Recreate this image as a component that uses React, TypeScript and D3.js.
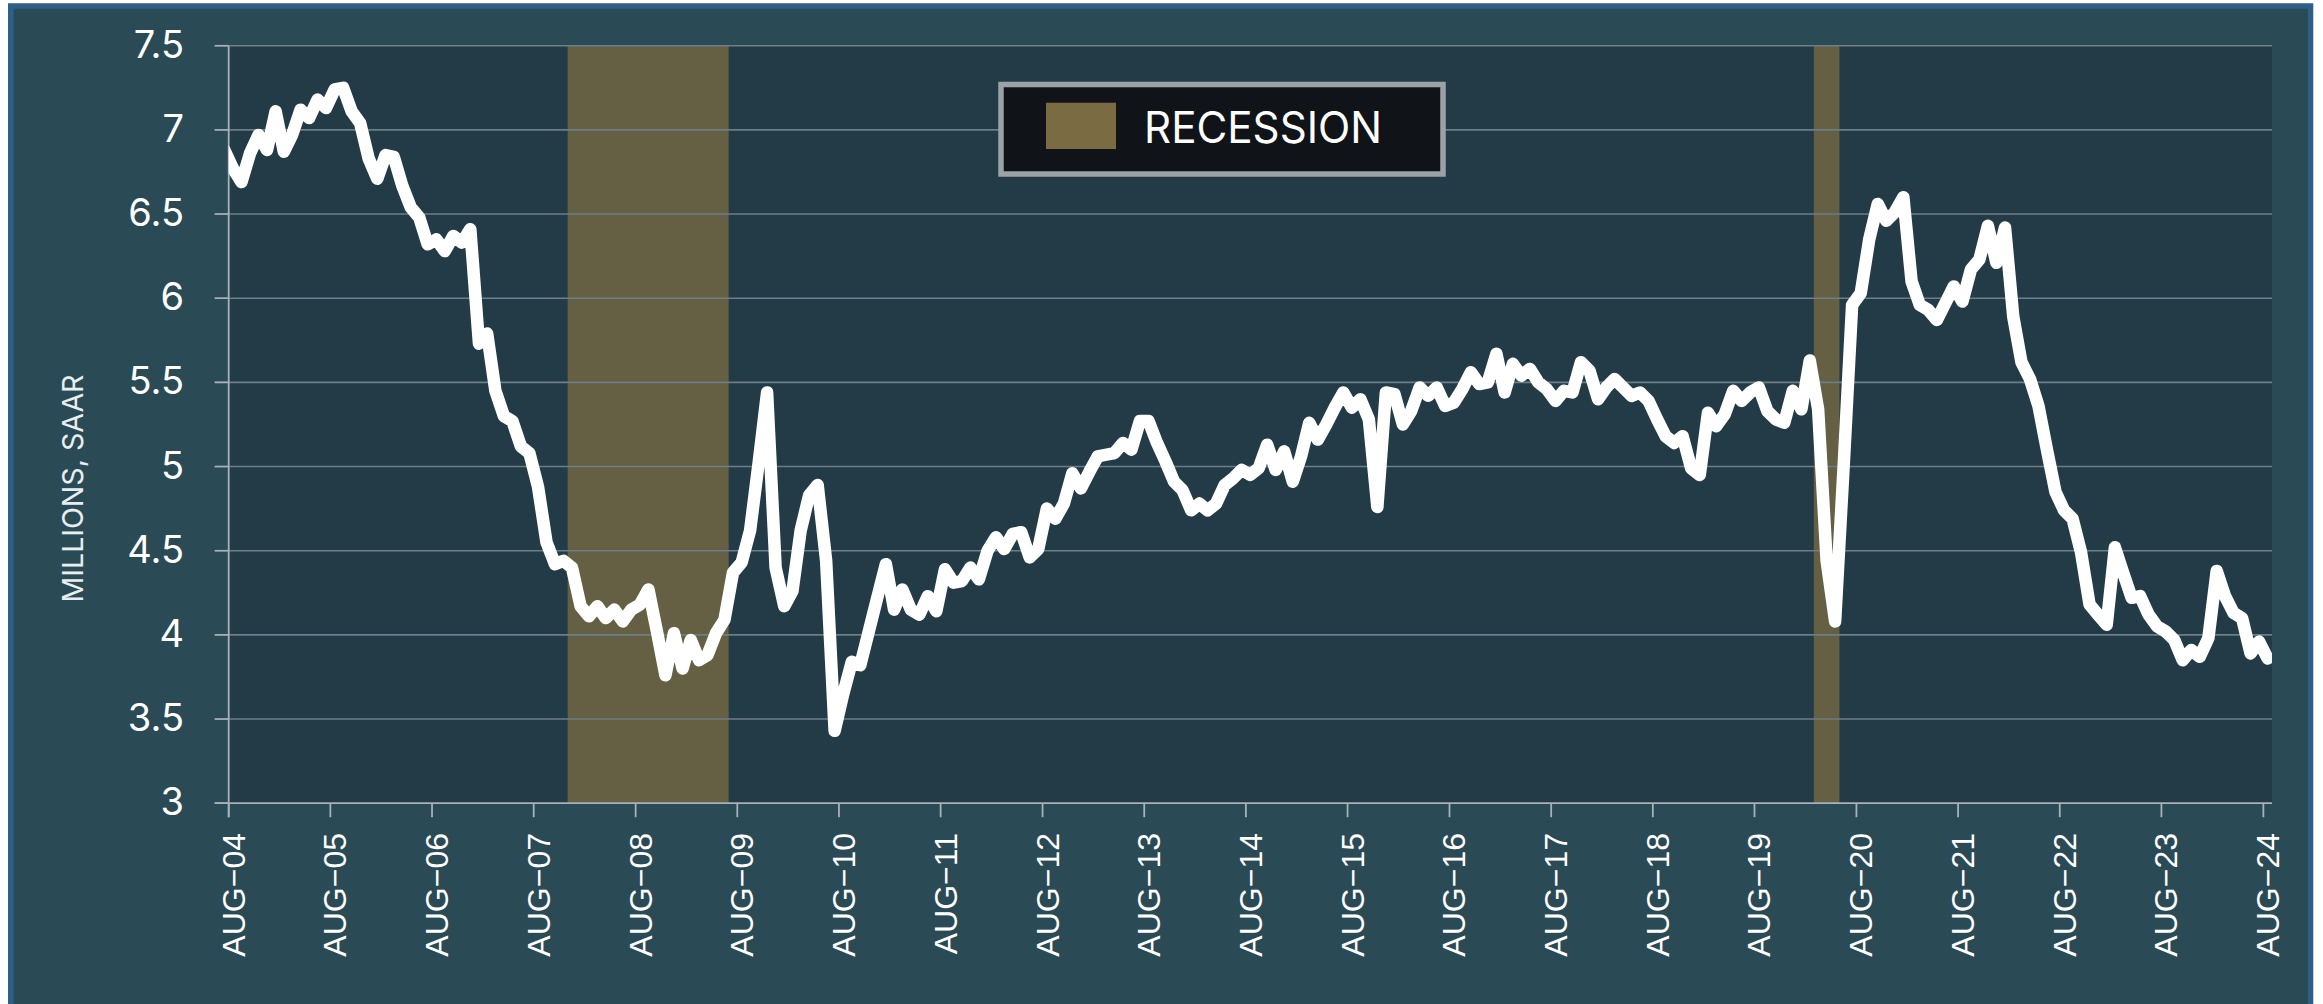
import React from "react";
import * as d3 from "d3";

// ---- DATA ----
// Monthly existing-home sales, millions SAAR. First value (Jul-04) sits just before the axis start.
const startMonth = "2004-07";
const sales: number[] = [
  6.88,
  // 2004 Aug-Dec
  6.77, 6.69, 6.86, 6.97, 6.88,
  // 2005
  7.11, 6.87, 6.97, 7.12, 7.07, 7.18, 7.13, 7.24, 7.25, 7.11, 7.04, 6.83,
  // 2006
  6.71, 6.85, 6.84, 6.67, 6.54, 6.48, 6.32, 6.35, 6.28, 6.37, 6.33, 6.41,
  // 2007
  5.73, 5.79, 5.45, 5.30, 5.27, 5.12, 5.08, 4.88, 4.55, 4.42, 4.44, 4.40,
  // 2008
  4.17, 4.11, 4.17, 4.10, 4.15, 4.08, 4.15, 4.18, 4.27, 4.02, 3.76, 4.01,
  // 2009
  3.80, 3.97, 3.85, 3.88, 4.01, 4.09, 4.37, 4.43, 4.62, 5.02, 5.44, 4.40,
  // 2010
  4.17, 4.26, 4.62, 4.83, 4.89, 4.44, 3.43, 3.65, 3.84, 3.82, 4.02, 4.22,
  // 2011
  4.42, 4.15, 4.27, 4.15, 4.12, 4.23, 4.14, 4.39, 4.31, 4.32, 4.40, 4.33,
  // 2012
  4.50, 4.58, 4.51, 4.60, 4.61, 4.46, 4.51, 4.75, 4.69, 4.78, 4.96, 4.87,
  // 2013
  4.97, 5.06, 5.07, 5.08, 5.14, 5.10, 5.27, 5.27, 5.14, 5.03, 4.91, 4.86,
  // 2014
  4.74, 4.78, 4.74, 4.78, 4.89, 4.93, 4.98, 4.95, 4.99, 5.13, 4.98, 5.09,
  // 2015
  4.91, 5.06, 5.26, 5.16, 5.25, 5.35, 5.44, 5.35, 5.40, 5.28, 4.76, 5.44,
  // 2016
  5.43, 5.25, 5.33, 5.47, 5.42, 5.47, 5.36, 5.38, 5.46, 5.56, 5.49, 5.50,
  // 2017
  5.67, 5.44, 5.61, 5.54, 5.58, 5.50, 5.46, 5.39, 5.45, 5.44, 5.62, 5.57,
  // 2018
  5.40, 5.47, 5.52, 5.47, 5.42, 5.44, 5.39, 5.28, 5.18, 5.14, 5.18, 4.99,
  // 2019
  4.95, 5.32, 5.24, 5.31, 5.45, 5.39, 5.44, 5.47, 5.33, 5.28, 5.26, 5.45,
  // 2020
  5.34, 5.63, 5.34, 4.44, 4.08, 5.00, 5.96, 6.03, 6.35, 6.56, 6.46, 6.51,
  // 2021
  6.60, 6.10, 5.96, 5.93, 5.87, 5.97, 6.07, 5.98, 6.17, 6.23, 6.43, 6.21,
  // 2022
  6.42, 5.89, 5.62, 5.52, 5.36, 5.10, 4.85, 4.74, 4.69, 4.49, 4.18, 4.12,
  // 2023
  4.06, 4.52, 4.37, 4.22, 4.23, 4.12, 4.05, 4.02, 3.97, 3.85, 3.91, 3.87,
  // 2024 Jan-Aug
  3.98, 4.38, 4.23, 4.13, 4.10, 3.89, 3.96, 3.86,
];

const xDomainStart = "2004-08";
const xDomainEnd = "2024-09";
const xTickYears = d3.range(2004, 2025);
const xTickLabels = xTickYears.map((yr) => "AUG\u2212" + String(yr % 100).padStart(2, "0"));
const yTicks = [3, 3.5, 4, 4.5, 5, 5.5, 6, 6.5, 7, 7.5];
const yTickLabels = ["3", "3.5", "4", "4.5", "5", "5.5", "6", "6.5", "7", "7.5"];
const recessionStarts = ["2007-12", "2020-03"];
const recessionEnds = ["2009-06", "2020-05"]; // inclusive months
const yAxisTitle = "MILLIONS, SAAR";
const legendLabel = "RECESSION";

// ---- LAYOUT ----
const W = 2323;
const H = 1004;
const PL = 228.7;
const PR = 2272;
const PT = 45.7;
const PB = 803.2;

const parseMonth = d3.utcParse("%Y-%m");

export default function App() {
  const x = d3
    .scaleUtc()
    .domain([parseMonth(xDomainStart)!, parseMonth(xDomainEnd)!])
    .range([PL, PR]);
  const y = d3.scaleLinear().domain([3, 7.5]).range([PB, PT]);

  const start = parseMonth(startMonth)!;
  const pts = sales.map((v, i) => {
    const m0 = d3.utcMonth.offset(start, i);
    const m1 = d3.utcMonth.offset(start, i + 1);
    return { xs: (x(m0) + x(m1)) / 2, v };
  });
  const line = d3
    .line<{ xs: number; v: number }>()
    .x((d) => d.xs)
    .y((d) => y(d.v));

  const gridColor = "#6c7e86";
  const axisColor = "#a9b2b6";

  return (
    <svg
      width={W}
      height={H}
      viewBox={`0 0 ${W} ${H}`}
      style={{ position: "absolute", left: 0, top: 0, display: "block" }}
    >
      <defs>
        <clipPath id="plotClip">
          <rect x={PL} y={PT} width={PR - PL} height={PB - PT} />
        </clipPath>
      </defs>
      <rect x={0} y={0} width={W} height={H} fill="#ffffff" />
      {/* outer frame */}
      <rect
        x={10.75}
        y={6}
        width={2299.8}
        height={1001}
        fill="#2a4a55"
        stroke="#2d5f89"
        strokeWidth={5.5}
      />
      {/* plot background */}
      <rect x={PL} y={PT} width={PR - PL} height={PB - PT} fill="#233b46" />

      {/* recession bands */}
      {recessionStarts.map((s, i) => {
        const a = x(parseMonth(s)!);
        const b = x(d3.utcMonth.offset(parseMonth(recessionEnds[i])!, 1));
        return (
          <rect key={s} x={a} y={PT} width={b - a} height={PB - PT} fill="#655f43" />
        );
      })}

      {/* grid lines */}
      {yTicks.map((t) =>
        t === 3 ? null : (
          <line
            key={t}
            x1={PL - 14}
            x2={PR}
            y1={y(t)}
            y2={y(t)}
            stroke={gridColor}
            strokeWidth={1.6}
          />
        )
      )}
      {yTicks.map((t) => (
        <line
          key={"yt" + t}
          x1={PL - 14}
          x2={PL}
          y1={y(t)}
          y2={y(t)}
          stroke={axisColor}
          strokeWidth={1.6}
        />
      ))}
      {/* axes */}
      <line x1={PL} x2={PL} y1={PT} y2={PB + 14} stroke={axisColor} strokeWidth={1.8} />
      <line x1={PL - 14} x2={PR} y1={PB} y2={PB} stroke={axisColor} strokeWidth={1.8} />
      {xTickYears.map((yr) => {
        const tx = x(new Date(Date.UTC(yr, 7, 1)));
        return (
          <line
            key={"xt" + yr}
            x1={tx}
            x2={tx}
            y1={PB}
            y2={PB + 14}
            stroke={axisColor}
            strokeWidth={1.8}
          />
        );
      })}

      {/* data line */}
      <path
        d={line(pts) || ""}
        fill="none"
        stroke="#ffffff"
        strokeWidth={12.5}
        strokeLinejoin="round"
        strokeLinecap="round"
        clipPath="url(#plotClip)"
      />

      {/* y tick labels */}
      {yTicks.map((t, i) => (
        <text
          key={"yl" + t}
          x={184}
          y={y(t) + 12}
          textAnchor="end"
          fill="#ffffff"
          fontFamily="Inter, 'Noto Sans', sans-serif"
          fontSize={38}
        >
          {yTickLabels[i]}
        </text>
      ))}

      {/* x tick labels */}
      {xTickYears.map((yr, i) => {
        const tx = x(new Date(Date.UTC(yr, 7, 1)));
        return (
          <text
            key={"xl" + yr}
            transform={`translate(${tx + 16},833) rotate(-90)`}
            textAnchor="end"
            fill="#ffffff"
            fontFamily="'Liberation Sans', Arial, sans-serif"
            fontSize={32}
          >
            {xTickLabels[i]}
          </text>
        );
      })}

      {/* y axis title */}
      <text
        transform="translate(83.3,488.5) rotate(-90)"
        textAnchor="middle"
        fill="#e8eef0"
        fontFamily="Inter, 'Noto Sans', sans-serif"
        fontWeight={400}
        fontSize={29}
        textLength={228}
        lengthAdjust="spacingAndGlyphs"
      >
        {yAxisTitle}
      </text>

      {/* legend */}
      <rect
        x={1001}
        y={84.5}
        width={442}
        height={89.5}
        fill="#101418"
        stroke="#9ba2a5"
        strokeWidth={5.5}
      />
      <rect x={1046} y={102.7} width={70} height={46.3} fill="#7b6b42" />
      <text
        x={1144}
        y={143.3}
        fill="#ffffff"
        fontFamily="Inter, 'Noto Sans', sans-serif"
        fontSize={44}
        textLength={238}
        lengthAdjust="spacingAndGlyphs"
      >
        {legendLabel}
      </text>
    </svg>
  );
}
